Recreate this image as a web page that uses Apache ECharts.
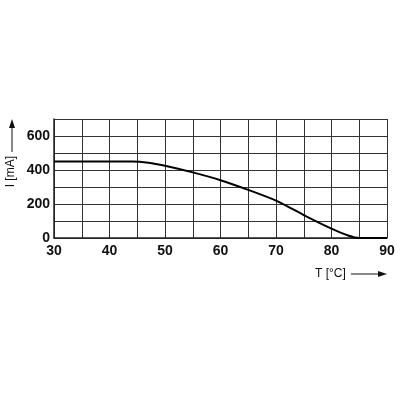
<!DOCTYPE html>
<html><head><meta charset="utf-8">
<script src="https://cdn.jsdelivr.net/npm/echarts@6/dist/echarts.min.js"></script>
<style>html,body{margin:0;padding:0;background:#fff}#c{width:400px;height:400px}</style>
</head><body><div id="c"></div>
<script>
const temps = [30, 35, 40, 44, 47, 50, 55, 60, 65, 70, 75, 80, 83, 85, 90];
const currents = [450, 450, 450, 450, 443, 425, 386, 340, 283, 220, 135, 55, 15, 0, 0];
const xTicks = [30, 40, 50, 60, 70, 80, 90];
const yTicks = [0, 200, 400, 600];
const chart = echarts.init(document.getElementById('c'), null, {renderer: 'canvas'});
const gridLine = {show: true, lineStyle: {color: '#333', width: 1}};
chart.setOption({
  animation: false,
  grid: {left: 54, right: 13, top: 119, bottom: 162},
  xAxis: {
    type: 'value', min: 30, max: 90, interval: 5,
    axisLine: {show: true, lineStyle: {color: '#222', width: 1.5}},
    axisTick: {show: false},
    splitLine: gridLine,
    axisLabel: {
      color: '#111', fontWeight: 'bold', fontSize: 14, fontFamily: 'Liberation Sans', margin: 6,
      formatter: v => xTicks.includes(v) ? String(v) : ''
    }
  },
  yAxis: {
    type: 'value', min: 0, max: 700, interval: 100,
    axisLine: {show: true, lineStyle: {color: '#222', width: 1.5}},
    axisTick: {show: false},
    splitLine: gridLine,
    axisLabel: {
      color: '#111', fontWeight: 'bold', fontSize: 14, fontFamily: 'Liberation Sans', margin: 4,
      formatter: v => yTicks.includes(v) ? String(v) : ''
    }
  },
  series: [{
    type: 'line', smooth: 0.25, showSymbol: false,
    lineStyle: {color: '#000', width: 2},
    data: temps.map((t, i) => [t, currents[i]])
  }],
  graphic: [
    {type: 'text', left: 5, top: 156, rotation: Math.PI / 2,
      style: {text: 'I [mA]', fontSize: 12, fontFamily: 'Liberation Sans', fill: '#111'}},
    {type: 'line', shape: {x1: 12, y1: 152, x2: 12, y2: 126}, style: {stroke: '#111', lineWidth: 1}},
    {type: 'polygon', shape: {points: [[12, 119], [9, 128], [15, 128]]}, style: {fill: '#111'}},
    {type: 'text', left: 315, top: 268,
      style: {text: 'T [°C]', fontSize: 12, fontFamily: 'Liberation Sans', fill: '#111'}},
    {type: 'line', shape: {x1: 351, y1: 274, x2: 380, y2: 274}, style: {stroke: '#111', lineWidth: 1}},
    {type: 'polygon', shape: {points: [[387, 274], [378, 271], [378, 277]]}, style: {fill: '#111'}}
  ]
});
</script></body></html>
